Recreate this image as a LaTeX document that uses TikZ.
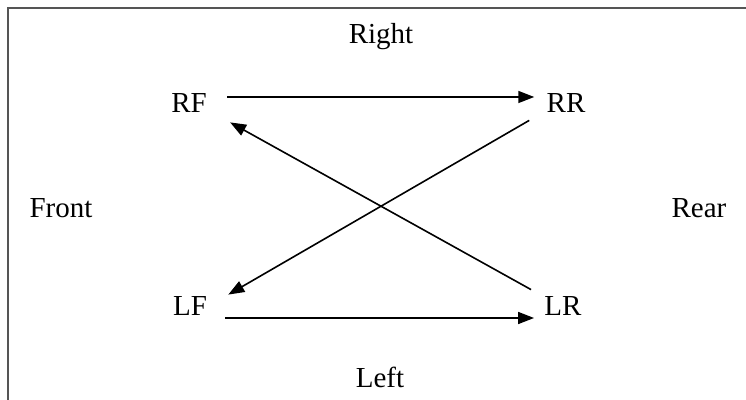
\documentclass[tikz,border=0pt]{standalone}
\usepackage{fontspec}
\setmainfont{Liberation Serif}
\usepackage{tikz}
\usetikzlibrary{arrows.meta, positioning}
\definecolor{framec}{HTML}{555555}

\begin{document}
\begin{tikzpicture}[
  x=0.5pt, y=-0.5pt,
  lbl/.style={inner sep=0pt, font=\fontsize{14.5}{17}\selectfont},
  arr/.style={-{Triangle[length=8pt, width=6pt]}, line width=0.8pt, black}
]
\useasboundingbox (0,0) rectangle (746,400);
\draw[framec, line width=1pt] (8,8) rectangle (760,410);

% side labels
\node[lbl] (right) at (381,37) {Right};
\node[lbl] (left) at (380,377) {Left};
\node[lbl] (front) at (61,208) {Front};
\node[lbl] (rear) at (699,208) {Rear};

% wheels
\node[lbl] (rf) at (189,103) {RF};
\node[lbl] (rr) at (566,103) {RR};
\node[lbl] (lf) at (190,306) {LF};
\node[lbl] (lr) at (563,306) {LR};

\draw[arr] ([shift={(10pt,3pt)}]rf.east) -- ([shift={(-6pt,3pt)}]rr.west);
\draw[arr] ([shift={(9pt,-6pt)}]lf.east) -- ([shift={(-5pt,-6pt)}]lr.west);
\draw[arr] ([shift={(-8.5pt,-3.75pt)}]rr.south west) -- ([shift={(10.5pt,0.75pt)}]lf.north east);
\draw[arr] ([shift={(-6.5pt,3.25pt)}]lr.north west) -- ([shift={(11.5pt,-4.75pt)}]rf.south east);
\end{tikzpicture}
\end{document}
